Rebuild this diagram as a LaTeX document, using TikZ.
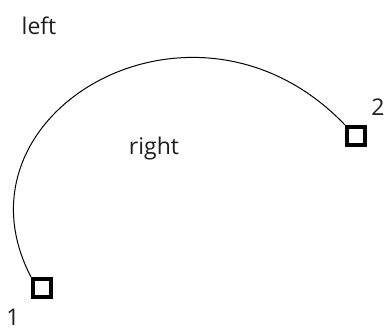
\documentclass[tikz,border=0pt]{standalone}
\usepackage{fontspec}
\setmainfont{Open Sans}
\usetikzlibrary{positioning}
\definecolor{ink}{RGB}{30,30,30}

\begin{document}
\begin{tikzpicture}[x=1pt,y=-1pt,font=\fontsize{23}{27}\selectfont,
      handle/.style={draw=black,fill=white,line width=4pt,minimum size=18pt,inner sep=0pt},
      lbl/.style={text=ink,inner sep=0pt}]
    \useasboundingbox (0,0) rectangle (384,331);
    \node[handle] (P1) at (42,288) {};
    \node[handle] (P2) at (356,136) {};
    \node[lbl] (n1) at (13,317) {1};
    \node[lbl] (n2) at (378,107) {2};
    \node[lbl] (L) at (39,26) {left};
    \node[lbl] (R) at (154,149) {right};
    \draw[line width=1pt] (P1.north west) .. controls (-55,112) and (195,-32) .. (P2.north west);
  \end{tikzpicture}
\end{document}
